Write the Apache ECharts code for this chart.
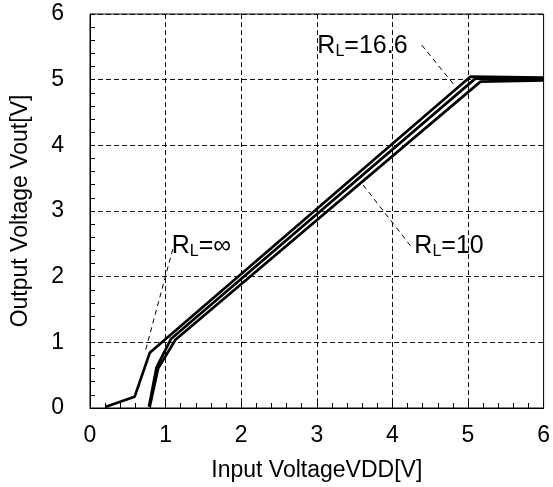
<!DOCTYPE html>
<html><head><meta charset="utf-8">
<script src="https://cdn.jsdelivr.net/npm/echarts@6/dist/echarts.min.js"></script>
<style>html,body{margin:0;padding:0;background:#fff}#c{width:553px;height:487px}</style>
</head><body><div id="c"></div>
<script>
const xTicks = [0,1,2,3,4,5,6];
const yTicks = [0,1,2,3,4,5,6];
const curveInf = [[0.21,0.02],[0.59,0.17],[0.79,0.84],[5.03,5.045],[6,5.03]];
const curve166 = [[0.78,0.02],[0.88,0.62],[1.07,1.05],[5.10,5.02],[6,5.01]];
const curve10  = [[0.79,0.02],[0.90,0.60],[1.13,1.04],[5.165,4.97],[6,4.99]];
const leaderInf = [[1.095,2.42],[0.725,0.837]];
const leader10  = [[3.613,3.396],[4.255,2.447]];
const leader166 = [[4.387,5.528],[4.836,4.893]];
const labelNames = ['∞','10','16.6'];
const labelPos = [[1.082,2.465],[4.29,2.465],[3.007,5.515]];

const FONT = '"Liberation Sans", Arial, Helvetica, sans-serif';
const chart = echarts.init(document.getElementById('c'));
const lineStyle = {color:'#000', width:2.7};
const leaderStyle = {color:'#000', width:1, type:[5,4]};
function curve(d){return {type:'line', data:d, showSymbol:false, symbol:'none', lineStyle:lineStyle, z:3, animation:false};}
function leader(d){return {type:'line', data:d, showSymbol:false, symbol:'none', lineStyle:leaderStyle, z:2, animation:false};}
const labelData = labelPos.map((p,i)=>({value:p, name:labelNames[i]}));
chart.setOption({
  animation:false,
  grid:{left:90, right:8, top:14, bottom:79, show:true, borderColor:'#000', borderWidth:1, backgroundColor:'transparent'},
  xAxis:{type:'value', min:0, max:6, interval:1,
    name:'Input VoltageVDD[V]', nameLocation:'middle', nameGap:51,
    nameTextStyle:{fontFamily:FONT, fontSize:23, color:'#000'},
    axisLine:{show:true, lineStyle:{color:'#000', width:1}},
    axisTick:{show:true, inside:true, length:5, lineStyle:{color:'#000'}},
    minorTick:{show:true, splitNumber:5, length:5, lineStyle:{color:'#000'}},
    axisLabel:{fontFamily:FONT, fontSize:23, color:'#000', margin:16,
      formatter:v=>xTicks.includes(v)?String(v):''},
    splitLine:{show:true, lineStyle:{color:'#111', type:[5,3], width:1}}
  },
  yAxis:{type:'value', min:0, max:6, interval:1,
    name:'Output Voltage Vout[V]', nameLocation:'middle', nameGap:58,
    nameTextStyle:{fontFamily:FONT, fontSize:23, color:'#000'},
    axisLine:{show:true, lineStyle:{color:'#000', width:1}},
    axisTick:{show:true, inside:true, length:5, lineStyle:{color:'#000'}},
    minorTick:{show:true, splitNumber:5, length:5, lineStyle:{color:'#000'}},
    axisLabel:{fontFamily:FONT, fontSize:23, color:'#000', margin:26,
      formatter:v=>yTicks.includes(v)?String(v):''},
    splitLine:{show:true, lineStyle:{color:'#111', type:[5,3], width:1}}
  },
  series:[
    curve(curveInf), curve(curve166), curve(curve10),
    leader(leaderInf), leader(leader10), leader(leader166),
    {type:'scatter', data:labelData, symbolSize:0, z:5, animation:false,
      itemStyle:{color:'#000', opacity:1},
      label:{show:true, position:'right', distance:0, color:'#000', opacity:1,
        formatter:p=>'{a|R}{b|L}{a|='+p.name+'}',
        rich:{
          a:{fontFamily:FONT, fontSize:25, lineHeight:25, color:'#000', verticalAlign:'top'},
          b:{fontFamily:FONT, fontSize:16, lineHeight:16, color:'#000', verticalAlign:'top', padding:[10,0,0,0]}
        }
      }
    }
  ]
});
</script></body></html>
